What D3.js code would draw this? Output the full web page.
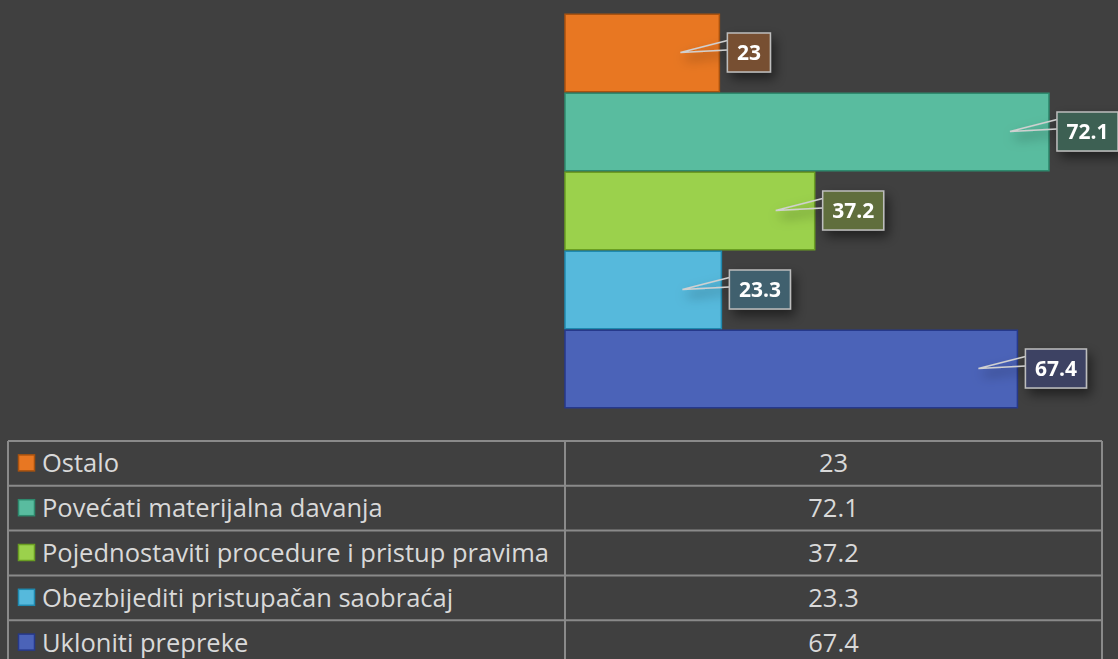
<!DOCTYPE html>
<html>
<head>
<meta charset="utf-8">
<script src="https://cdn.jsdelivr.net/npm/d3@7"></script>
<style>
  html, body { margin: 0; padding: 0; background: #404040; }
  svg { display: block; }
</style>
</head>
<body>
<svg id="chart" width="1118" height="659"></svg>
<script>
const categories = [
  "Ostalo",
  "Povećati materijalna davanja",
  "Pojednostaviti procedure i pristup pravima",
  "Obezbijediti pristupačan saobraćaj",
  "Ukloniti prepreke"
];
const values = [23, 72.1, 37.2, 23.3, 67.4];
const valueLabels = ["23", "72.1", "37.2", "23.3", "67.4"];
const barColors = ["#E87722", "#59BC9F", "#9BD14C", "#56B9DC", "#4B63B8"];
const barStrokes = ["#A9520F", "#2E8A6E", "#6A9E22", "#1F8AB0", "#26398C"];
const labelFills = ["#774F32", "#3E6052", "#606E3E", "#40606E", "#3D4364"];

const svg = d3.select("#chart");
const W = 1118, H = 659;
svg.append("rect").attr("width", W).attr("height", H).attr("fill", "#404040");

const defs = svg.append("defs");
const f = defs.append("filter").attr("id", "shadow")
  .attr("x", "-50%").attr("y", "-50%").attr("width", "200%").attr("height", "200%");
f.append("feDropShadow").attr("dx", 4).attr("dy", 6).attr("stdDeviation", 6)
  .attr("flood-color", "#000").attr("flood-opacity", 0.5);

const x = d3.scaleLinear().domain([0, 80]).range([565, 1102]);
const y = d3.scaleBand().domain(categories).range([13.5, 408.5]).padding(0);

// bars
svg.append("g").selectAll("rect").data(categories).join("rect")
  .attr("x", x(0))
  .attr("y", d => y(d) + 0.75)
  .attr("width", (d, i) => x(values[i]) - x(0))
  .attr("height", y.bandwidth() - 1.5)
  .attr("fill", (d, i) => barColors[i])
  .attr("stroke", (d, i) => barStrokes[i])
  .attr("stroke-width", 1.5);

// callout labels
const lg = svg.append("g");
categories.forEach((c, i) => {
  const end = x(values[i]);
  const cy = y(c) + y.bandwidth() / 2 - 0.5;
  const g = lg.append("g").attr("filter", "url(#shadow)");
  const boxL = end + 8, boxT = cy - 19.5, boxH = 39;
  const wedge = g.append("path");
  const box = g.append("rect");
  const t = g.append("text")
    .attr("font-family", "'Open Sans', sans-serif")
    .attr("font-weight", 700)
    .attr("font-size", 21)
    .attr("fill", "#ffffff")
    .attr("text-anchor", "middle")
    .text(valueLabels[i]);
  const tw = t.node().getComputedTextLength();
  const boxW = tw + 19;
  box.attr("x", boxL).attr("y", boxT).attr("width", boxW).attr("height", boxH)
    .attr("fill", labelFills[i]).attr("stroke", "#bdbdbd").attr("stroke-width", 1.5);
  t.attr("x", boxL + boxW / 2).attr("y", cy + 7.5);
  const tipX = end - 39;
  wedge.attr("d", `M${boxL},${boxT + 7.5} L${tipX},${cy} L${boxL},${boxT + 17}`)
    .attr("fill", "none").attr("stroke", "#d0d0d0").attr("stroke-width", 1.4);
});

// data table
const tTop = 441, rowH = 44.8, tL = 8, tMid = 565, tR = 1102;
const tg = svg.append("g");
const rowY = d3.scaleBand().domain(categories).range([tTop, tTop + rowH * categories.length]);
const lineColor = "#8a8a8a";
categories.forEach((c, i) => {
  const top = rowY(c);
  const mid = top + rowH / 2;
  tg.append("rect").attr("x", 18.5).attr("y", mid - 8.5).attr("width", 16).attr("height", 16)
    .attr("fill", barColors[i]).attr("stroke", barStrokes[i]).attr("stroke-width", 1.5);
  tg.append("text").attr("x", 42).attr("y", mid + 9)
    .attr("font-family", "'Open Sans', sans-serif").attr("font-size", 25.5)
    .attr("fill", "#d9d9d9").text(c);
  tg.append("text").attr("x", (tMid + tR) / 2).attr("y", mid + 9)
    .attr("text-anchor", "middle")
    .attr("font-family", "'Open Sans', sans-serif").attr("font-size", 25.5)
    .attr("fill", "#d9d9d9").text(valueLabels[i]);
});
const tBottom = tTop + rowH * categories.length;
categories.forEach(c => {
  tg.append("line").attr("x1", tL).attr("x2", tR).attr("y1", rowY(c)).attr("y2", rowY(c))
    .attr("stroke", lineColor).attr("stroke-width", 2);
});
tg.append("line").attr("x1", tL).attr("x2", tR).attr("y1", tBottom).attr("y2", tBottom)
  .attr("stroke", lineColor).attr("stroke-width", 2);
[tL, tMid, tR].forEach(xx => {
  tg.append("line").attr("x1", xx).attr("x2", xx).attr("y1", tTop).attr("y2", tBottom)
    .attr("stroke", lineColor).attr("stroke-width", 2);
});
</script>
</body>
</html>
